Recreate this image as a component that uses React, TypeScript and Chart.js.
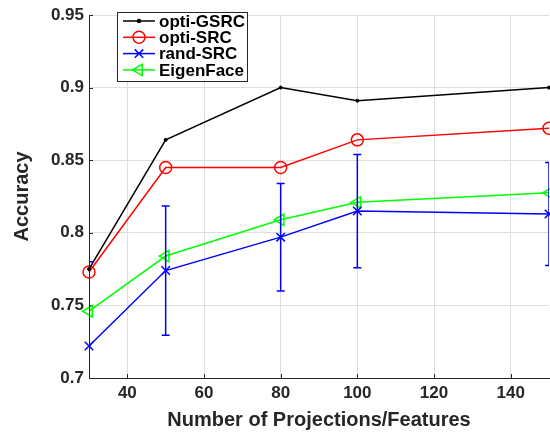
import React, { useEffect, useRef } from 'react';
import { Chart, registerables } from 'chart.js';

Chart.register(...registerables);

const xValues = [30, 50, 80, 100, 150];
const optiGSRC = [0.775, 0.864, 0.9, 0.891, 0.9];
const optiSRC = [0.773, 0.845, 0.845, 0.864, 0.872];
const randSRC = [0.722, 0.774, 0.797, 0.815, 0.813];
const randSRCErr = [0.058, 0.0445, 0.037, 0.039, 0.0355];
const eigenFace = [0.746, 0.784, 0.809, 0.821, 0.8275];

const xTicks = [40, 60, 80, 100, 120, 140];
const yTicks = [0.7, 0.75, 0.8, 0.85, 0.9, 0.95];
const seriesLabels = ['opti-GSRC', 'opti-SRC', 'rand-SRC', 'EigenFace'];
const xTitle = 'Number of Projections/Features';
const yTitle = 'Accuracy';

const FONT = '"Liberation Sans", Arial, Helvetica, sans-serif';
const TEXT = '#262626';

function drawMarker(ctx: CanvasRenderingContext2D, style: string, x: number, y: number, r: number, rot: number, color: string, fill: boolean) {
  ctx.save();
  ctx.strokeStyle = color;
  ctx.fillStyle = color;
  ctx.lineWidth = 1.5;
  ctx.beginPath();
  if (style === 'circle') {
    ctx.arc(x, y, r, 0, Math.PI * 2);
    if (fill) ctx.fill();
    ctx.stroke();
  } else if (style === 'crossRot') {
    const o = Math.cos(Math.PI / 4) * r;
    ctx.moveTo(x - o, y - o); ctx.lineTo(x + o, y + o);
    ctx.moveTo(x - o, y + o); ctx.lineTo(x + o, y - o);
    ctx.stroke();
  } else if (style === 'triangle') {
    let rad = (rot * Math.PI) / 180;
    const pts: number[][] = [];
    rad -= Math.PI / 2;
    for (let i = 0; i < 3; i++) {
      const a = rad + i * (2 * Math.PI / 3);
      pts.push([x + Math.cos(a) * r, y + Math.sin(a) * r]);
    }
    ctx.moveTo(pts[0][0], pts[0][1]);
    ctx.lineTo(pts[1][0], pts[1][1]);
    ctx.lineTo(pts[2][0], pts[2][1]);
    ctx.closePath();
    ctx.stroke();
  }
  ctx.restore();
}

const errorBarsPlugin = {
  id: 'errorBars',
  afterDatasetsDraw(chart: any) {
    const { ctx, chartArea, scales } = chart;
    const ds = chart.data.datasets[2];
    ctx.save();
    ctx.beginPath();
    ctx.rect(chartArea.left, chartArea.top, chartArea.right - chartArea.left, chartArea.bottom - chartArea.top);
    ctx.clip();
    ctx.strokeStyle = ds.borderColor;
    ctx.lineWidth = 1.5;
    xValues.forEach((xv, i) => {
      const px = scales.x.getPixelForValue(xv);
      const top = scales.y.getPixelForValue(randSRC[i] + randSRCErr[i]);
      const bot = scales.y.getPixelForValue(randSRC[i] - randSRCErr[i]);
      const cap = 4;
      ctx.beginPath();
      ctx.moveTo(px, top); ctx.lineTo(px, bot);
      ctx.moveTo(px - cap, top); ctx.lineTo(px + cap, top);
      ctx.moveTo(px - cap, bot); ctx.lineTo(px + cap, bot);
      ctx.stroke();
    });
    ctx.restore();
  },
};

const innerTicksPlugin = {
  id: 'innerTicks',
  beforeDatasetsDraw(chart: any) {
    const { ctx, chartArea, scales } = chart;
    ctx.save();
    ctx.strokeStyle = TEXT;
    ctx.lineWidth = 1;
    const len = 4;
    scales.x.ticks.forEach((t: any) => {
      const px = Math.round(scales.x.getPixelForValue(t.value)) + 0.5;
      ctx.beginPath();
      ctx.moveTo(px, chartArea.bottom);
      ctx.lineTo(px, chartArea.bottom - len);
      ctx.stroke();
    });
    scales.y.ticks.forEach((t: any) => {
      const py = Math.round(scales.y.getPixelForValue(t.value)) + 0.5;
      ctx.beginPath();
      ctx.moveTo(chartArea.left, py);
      ctx.lineTo(chartArea.left + len, py);
      ctx.stroke();
    });
    ctx.restore();
  },
};

const legendPlugin = {
  id: 'boxLegend',
  afterDraw(chart: any) {
    const { ctx } = chart;
    const left = 117.5, top = 12.5, w = 130, h = 69;
    ctx.save();
    ctx.fillStyle = '#ffffff';
    ctx.fillRect(left, top, w, h);
    ctx.strokeStyle = TEXT;
    ctx.lineWidth = 1;
    ctx.strokeRect(left, top, w, h);
    ctx.font = `bold 17px ${FONT}`;
    ctx.textBaseline = 'middle';
    ctx.textAlign = 'left';
    chart.data.datasets.forEach((ds: any, i: number) => {
      const y = 21 + i * 16.3;
      ctx.strokeStyle = ds.borderColor;
      ctx.lineWidth = 1.5;
      ctx.beginPath();
      ctx.moveTo(123, y);
      ctx.lineTo(155, y);
      ctx.stroke();
      drawMarker(ctx, ds.pointStyle, 139, y, ds.pointRadius, ds.pointRotation || 0, ds.borderColor, ds.label === seriesLabels[0]);
      ctx.fillStyle = '#000000';
      ctx.fillText(ds.label, 159, y + 1);
    });
    ctx.restore();
  },
};

const toPoints = (ys: number[]) => xValues.map((x, i) => ({ x, y: ys[i] }));

export default function App() {
  const ref = useRef<HTMLCanvasElement | null>(null);
  useEffect(() => {
    document.body.style.margin = '0';
    if (!ref.current) return;
    const chart = new Chart(ref.current, {
      type: 'line',
      data: {
        datasets: [
          {
            label: seriesLabels[0], data: toPoints(optiGSRC), borderColor: '#000000', backgroundColor: '#000000',
            borderWidth: 1.5, pointStyle: 'circle', pointRadius: 1.5, pointBorderWidth: 1, clip: false,
          },
          {
            label: seriesLabels[1], data: toPoints(optiSRC), borderColor: '#ff0000', backgroundColor: 'rgba(0,0,0,0)',
            borderWidth: 1.5, pointStyle: 'circle', pointRadius: 6, pointBorderWidth: 1.5, clip: false,
          },
          {
            label: seriesLabels[2], data: toPoints(randSRC), borderColor: '#0000ff', backgroundColor: 'rgba(0,0,0,0)',
            borderWidth: 1.5, pointStyle: 'crossRot', pointRadius: 6, pointBorderWidth: 1.5, clip: false,
          },
          {
            label: seriesLabels[3], data: toPoints(eigenFace), borderColor: '#00ff00', backgroundColor: 'rgba(0,0,0,0)',
            borderWidth: 1.5, pointStyle: 'triangle', pointRadius: 6.5, pointRotation: -90, pointBorderWidth: 1.5, clip: false,
          },
        ] as any,
      },
      options: {
        animation: false,
        responsive: true,
        maintainAspectRatio: false,
        layout: { autoPadding: false, padding: { top: 15, right: 1, left: 0, bottom: 0 } },
        plugins: { legend: { display: false }, tooltip: { enabled: false } },
        elements: { line: { tension: 0 } },
        scales: {
          x: {
            type: 'linear',
            min: 30,
            max: 150,
            afterBuildTicks: (s: any) => { s.ticks = xTicks.map((v) => ({ value: v })); },
            afterFit: (s: any) => { s.height = 57; s.paddingRight = 0; s.paddingLeft = 0; },
            grid: { color: '#dedede', drawTicks: false },
            border: { display: true, color: TEXT, width: 1 },
            ticks: { color: TEXT, font: { family: FONT, size: 17, weight: 'bold' }, padding: 5, maxRotation: 0 },
            title: { display: true, text: xTitle, color: TEXT, font: { family: FONT, size: 20, weight: 'bold' }, padding: { top: 4, bottom: 3 } },
          },
          y: {
            type: 'linear',
            min: 0.7,
            max: 0.95,
            afterBuildTicks: (s: any) => { s.ticks = yTicks.map((v) => ({ value: v })); },
            afterFit: (s: any) => { s.width = 89; s.paddingTop = 0; s.paddingBottom = 0; },
            grid: { color: '#dedede', drawTicks: false },
            border: { display: true, color: TEXT, width: 1 },
            ticks: { color: TEXT, font: { family: FONT, size: 17, weight: 'bold' }, padding: 5, callback: (v: any) => String(Number(v)) },
            title: { display: true, text: yTitle, color: TEXT, font: { family: FONT, size: 20, weight: 'bold' }, padding: { top: 10, bottom: 0 } },
          },
        },
      } as any,
      plugins: [innerTicksPlugin, errorBarsPlugin, legendPlugin],
    });
    return () => chart.destroy();
  }, []);
  return (
    <div style={{ position: 'absolute', left: 0, top: 0, width: 550, height: 435, background: '#fff' }}>
      <canvas ref={ref} />
    </div>
  );
}
